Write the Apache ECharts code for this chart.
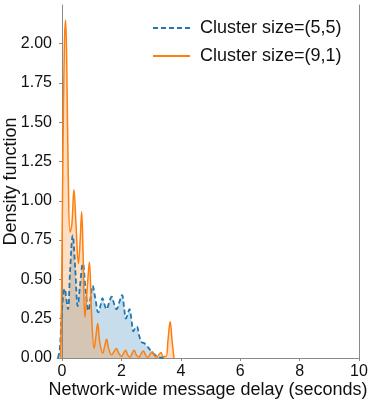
<!DOCTYPE html>
<html>
<head>
<meta charset="utf-8">
<script src="https://cdn.jsdelivr.net/npm/echarts@6/dist/echarts.min.js"></script>
<style>
  html, body { margin: 0; padding: 0; background: #fff; }
  #chart { width: 374px; height: 402px; }
</style>
</head>
<body>
<div id="chart"></div>
<script>
// cluster size (5,5): delay (s) vs density
const blueX = [-0.14, -0.08, -0.02, 0.05, 0.09, 0.14, 0.2, 0.27, 0.36, 0.44, 0.53, 0.6, 0.7, 0.8, 0.89, 0.96, 1.03, 1.12, 1.22, 1.29, 1.36, 1.43, 1.5, 1.58, 1.67, 1.76, 1.84, 1.92, 2.02, 2.09, 2.15, 2.21, 2.27, 2.34, 2.4, 2.46, 2.52, 2.6, 2.68, 2.76, 2.84, 2.93, 3.02, 3.1, 3.19, 3.3, 3.42]
const blueY = [0, 0.05, 0.25, 0.42, 0.44, 0.38, 0.31, 0.55, 0.78, 0.58, 0.33, 0.45, 0.6, 0.42, 0.3, 0.38, 0.46, 0.38, 0.29, 0.33, 0.38, 0.34, 0.31, 0.35, 0.39, 0.34, 0.31, 0.35, 0.4, 0.32, 0.25, 0.28, 0.31, 0.24, 0.17, 0.19, 0.2, 0.14, 0.1, 0.095, 0.08, 0.06, 0.04, 0.025, 0.013, 0.004, 0]

// cluster size (9,1)
const orangeX = [-0.05, -0.02, 0.03, 0.08, 0.12, 0.16, 0.21, 0.27, 0.33, 0.4, 0.47, 0.55, 0.61, 0.66, 0.71, 0.77, 0.85, 0.92, 0.99, 1.08, 1.14, 1.2, 1.27, 1.37, 1.44, 1.5, 1.57, 1.67, 1.75, 1.83, 1.91, 2.0, 2.07, 2.14, 2.21, 2.29, 2.36, 2.43, 2.5, 2.59, 2.67, 2.74, 2.81, 2.89, 2.97, 3.04, 3.11, 3.18, 3.26, 3.33, 3.4, 3.5, 3.57, 3.64, 3.71, 3.77]
const orangeY = [0, 0.35, 1.3, 2.0, 2.15, 1.85, 1.15, 0.8, 0.85, 1.07, 0.85, 0.6, 0.75, 0.93, 0.65, 0.26, 0.45, 0.61, 0.3, 0.06, 0.14, 0.22, 0.1, 0.03, 0.08, 0.12, 0.06, 0.02, 0.04, 0.06, 0.03, 0.01, 0.03, 0.05, 0.02, 0.005, 0.03, 0.05, 0.02, 0.005, 0.03, 0.045, 0.02, 0.005, 0.025, 0.04, 0.015, 0.005, 0.02, 0.035, 0.01, 0.01, 0.12, 0.23, 0.1, 0]

const xTicks = [0, 2, 4, 6, 8, 10]
const yTicks = [0, 0.25, 0.5, 0.75, 1.0, 1.25, 1.5, 1.75, 2.0]

const seriesNames = ['Cluster size=(5,5)', 'Cluster size=(9,1)']
const colors = ['#1f77b4', '#ff7f0e']

function pairs(xs, ys) {
  return xs.map((x, i) => [x, ys[i]])
}

const font = 'Liberation Sans'
const axisGray = '#8a8a8a'
const textColor = '#111'

const chart = echarts.init(document.getElementById('chart'))
chart.setOption({
  animation: false,
  backgroundColor: '#fff',
  textStyle: { fontFamily: font },
  grid: { left: 57, right: 15, top: 5, bottom: 44, containLabel: false, outerBoundsMode: 'none' },
  legend: {
    orient: 'vertical',
    left: 147,
    top: 14,
    itemWidth: 37,
    itemHeight: 14,
    itemGap: 10,
    itemStyle: { opacity: 0, borderWidth: 0 },
    textStyle: { fontSize: 18, color: textColor, fontFamily: font, padding: [0, 0, 0, 5] },
    data: seriesNames
  },
  xAxis: {
    type: 'value',
    min: -0.17,
    max: 10,
    name: 'Network-wide message delay (seconds)',
    nameLocation: 'middle',
    nameGap: 23,
    nameMoveOverlap: false,
    nameTextStyle: { fontSize: 18, color: textColor, fontFamily: font },
    axisLine: { show: true, lineStyle: { color: axisGray, width: 1 } },
    axisTick: { show: true, length: 3, lineStyle: { color: axisGray }, customValues: xTicks },
    axisLabel: { fontSize: 16, color: textColor, margin: 6, customValues: xTicks },
    splitLine: { show: false }
  },
  yAxis: [{
    type: 'value',
    min: 0,
    max: 2.245,
    name: 'Density function',
    nameLocation: 'middle',
    nameGap: 37,
    nameMoveOverlap: false,
    nameTextStyle: { fontSize: 18, color: textColor, fontFamily: font },
    axisLine: { show: true, lineStyle: { color: axisGray, width: 1 } },
    axisTick: { show: true, length: 3, lineStyle: { color: axisGray }, customValues: yTicks },
    axisLabel: { fontSize: 16, color: textColor, margin: 5, customValues: yTicks, formatter: v => v.toFixed(2) },
    splitLine: { show: false }
  }, {
    type: 'value',
    position: 'right',
    min: 0,
    max: 2.245,
    axisLine: { show: true, lineStyle: { color: axisGray, width: 1 } },
    axisTick: { show: false },
    axisLabel: { show: false },
    splitLine: { show: false }
  }],
  series: [{
    name: seriesNames[0],
    type: 'line',
    smooth: 0.4,
    symbol: 'none',
    color: colors[0],
    lineStyle: { width: 1.8, type: [5, 3], color: colors[0] },
    areaStyle: { color: colors[0], opacity: 0.25 },
    data: pairs(blueX, blueY)
  }, {
    name: seriesNames[1],
    type: 'line',
    smooth: 0.4,
    symbol: 'none',
    color: colors[1],
    lineStyle: { width: 1.5, color: colors[1] },
    areaStyle: { color: colors[1], opacity: 0.25 },
    data: pairs(orangeX, orangeY)
  }]
})
</script>
</body>
</html>
